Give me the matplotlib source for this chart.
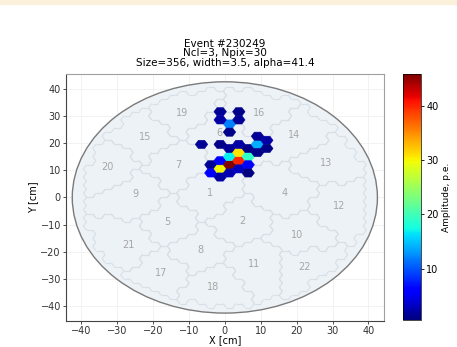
import numpy as np
import matplotlib
matplotlib.use("Agg")
import matplotlib.pyplot as plt
from matplotlib.collections import PolyCollection, LineCollection
from matplotlib.colors import Normalize
from matplotlib.patches import Circle, Rectangle

# Cluster numbers and where their labels sit on the camera (cm)
cluster_id = [1, 2, 4, 5, 6, 7, 8, 9, 10, 11, 12, 13, 14, 15, 16, 17, 18, 19, 20, 21, 22]
cluster_x = [-4.1, 4.8, 16.6, -15.9, -1.5, -13.1, -6.9, -24.9, 20.0, 8.2, 31.7,
             28.2, 19.4, -22.1, 9.6, -17.8, -3.2, -11.8, -32.6, -26.8, 22.1]
cluster_y = [1.5, -8.8, 1.7, -9.1, 23.8, 12.1, -19.4, 1.4, -13.7, -24.4, -3.2,
             12.5, 22.8, 22.3, 31.1, -27.7, -32.8, 31.1, 11.3, -17.5, -25.6]

# Fired pixels: hex grid column, row and amplitude (p.e.)
hit_col = [0, -1, 1, -1, 1, 0,
           -3,
           -2, -2,
           -1, -1, -1,
           0, 0, 0, -1, 0,
           1, 1, 1, 1,
           2, 2, 2, 2,
           3, 3, 3,
           4, 4]
hit_row = [9, 10, 10, 9, 9, 8,
           6,
           4, 3,
           3, 2, 4,
           4, 5, 6, 6, 3,
           4, 5, 6, 3,
           5, 4, 6, 3,
           6, 7, 5,
           7, 6]
hit_amp = [12, 1.5, 1, 2, 1.5, 1,
           1.5,
           1.5, 6,
           30, 2, 6,
           46, 17, 1.5, 1, 2.5,
           40, 31, 2, 3,
           19, 6, 1, 0.5,
           14, 1.5, 1,
           2, 1]

PITCH = 3.0          # pixel pitch, cm
HEX_R = PITCH / np.sqrt(3)
CAM_R = 42.5
FIELD_R = 40.0


def hex_center(c, r):
    x = (c + 0.5) * PITCH * np.sqrt(3) / 2
    y = (r + 0.5 * (c % 2)) * PITCH
    return x, y


def hex_verts(x, y):
    ang = np.radians(np.arange(0, 360, 60))
    return np.column_stack([x + HEX_R * np.cos(ang), y + HEX_R * np.sin(ang)])


# camera pixels inside the field of view, each assigned to the nearest cluster
cx = np.array(cluster_x)
cy = np.array(cluster_y)
pixels = {}
for c in range(-18, 19):
    for r in range(-16, 17):
        x, y = hex_center(c, r)
        if np.hypot(x, y) < FIELD_R:
            k = int(np.argmin((cx - x) ** 2 + (cy - y) ** 2))
            pixels[(round(x * 10), round(y * 10))] = (x, y, k)

# cluster boundaries: hex edges between pixels of different clusters
segs = []
for (x, y, k) in pixels.values():
    for th in (30, 90, 150, 210, 270, 330):
        t = np.radians(th)
        nx, ny = x + PITCH * np.cos(t), y + PITCH * np.sin(t)
        nb = pixels.get((round(nx * 10), round(ny * 10)))
        if nb is None or nb[2] != k:
            a1, a2 = np.radians(th - 30), np.radians(th + 30)
            segs.append([(x + HEX_R * np.cos(a1), y + HEX_R * np.sin(a1)),
                         (x + HEX_R * np.cos(a2), y + HEX_R * np.sin(a2))])

fig = plt.figure(figsize=(4.57, 3.47), dpi=100)
fig.patches.append(Rectangle((0, 0.988), 1, 0.012, transform=fig.transFigure,
                             color="#fbf0da", zorder=0))
ax = fig.add_axes([0.144, 0.075, 0.696, 0.712])
cax = fig.add_axes([0.882, 0.078, 0.039, 0.709])

ax.grid(color="#f0f0f0", lw=0.6)
ax.set_axisbelow(True)
ax.add_patch(Circle((0, 0), CAM_R, fc="#edf2f6", ec="#7a7a7a", lw=1.0, zorder=1))
ax.add_collection(LineCollection(segs, colors="#d9dfe6", lw=0.8, zorder=2))

for cid, x, y in zip(cluster_id, cluster_x, cluster_y):
    ax.text(x, y, str(cid), ha="center", va="center", color="#a6a6a6",
            fontsize=7, zorder=3)

verts = [hex_verts(*hex_center(c, r)) for c, r in zip(hit_col, hit_row)]
pc = PolyCollection(verts, cmap="jet",
                    norm=Normalize(min(hit_amp), max(hit_amp)),
                    edgecolors="face", linewidths=0.4, zorder=4)
pc.set_array(np.array(hit_amp))
ax.add_collection(pc)

ax.set_xlim(-44.3, 44.3)
ax.set_ylim(-45.4, 45.4)
ax.set_xticks(np.arange(-40, 41, 10))
ax.set_yticks(np.arange(-40, 41, 10))
ax.tick_params(labelsize=7, length=2.5, width=0.6, pad=1, colors="#333333")
for s in ("left", "bottom"):
    ax.spines[s].set_color("#444444")
for s in ("top", "right"):
    ax.spines[s].set_color("#a0a0a0")
ax.set_xlabel("X [cm]", fontsize=7, labelpad=-0.5)
ax.set_ylabel("Y [cm]", fontsize=7, labelpad=2)
ax.set_title("Event #230249\nNcl=3, Npix=30\nSize=356, width=3.5, alpha=41.4",
             fontsize=7.5, linespacing=0.92, pad=6)

cb = fig.colorbar(pc, cax=cax)
cb.set_ticks([10, 20, 30, 40])
cb.ax.tick_params(labelsize=7, length=2.5, width=0.6, pad=1.5)
cb.outline.set_linewidth(0.5)
cb.set_label("Amplitude, p.e.", fontsize=6.5, labelpad=2)

fig.savefig("out.png", dpi=100)
